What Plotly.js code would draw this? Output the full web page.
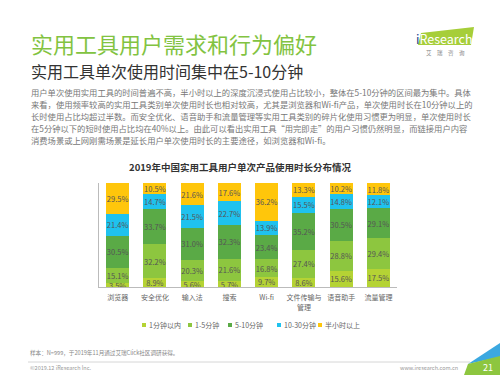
<!DOCTYPE html>
<html>
<head>
<meta charset="utf-8">
<script src="https://cdn.plot.ly/plotly-3.0.1.min.js"></script>
<style>
html,body{margin:0;padding:0;background:#fff;}
#chart{width:500px;height:375px;}
</style>
</head>
<body>
<div id="chart"></div>
<script>
// ---- data ----
const categories = ['浏览器','安全优化','输入法','搜索','Wi-fi','文件传输与<br>管理','语音助手','流量管理'];
const seriesNames = ['1分钟以内','1-5分钟','5-10分钟','10-30分钟','半小时以上'];
const under1 = [3.5, 8.9, 5.6, 5.7, 9.7, 8.6, 15.6, 17.5];
const min1to5 = [15.1, 32.2, 20.3, 21.6, 16.8, 27.4, 28.8, 29.4];
const min5to10 = [30.5, 33.7, 31.0, 32.3, 23.4, 35.2, 30.5, 29.1];
const min10to30 = [21.4, 14.7, 21.5, 22.7, 13.9, 15.5, 14.8, 12.1];
const over30 = [29.5, 10.5, 21.6, 17.6, 36.2, 13.3, 10.2, 11.8];
const seriesValues = [under1, min1to5, min5to10, min10to30, over30];
const seriesColors = ['#B5D334','#8DC63F','#5AAA46','#1FC2EE','#FFC60B'];

const FONT = '"Noto Sans CJK SC", "Noto Sans", sans-serif';

// plot area in pixels
const L = 99, R = 397, T = 183, B = 287;
const px = x => (x - L) / (R - L);
const py = y => (B - y) / (B - T);

const traces = seriesValues.map((vals, i) => ({
  type: 'bar',
  name: seriesNames[i],
  x: categories,
  y: vals,
  marker: {color: seriesColors[i]},
  text: vals.map(v => v.toFixed(1) + '%'),
  textposition: 'inside',
  insidetextanchor: 'middle',
  textangle: 0,
  constraintext: 'none',
  textfont: {family: FONT, size: 7.5, color: '#555'},
  hoverinfo: 'x+y+name',
  showlegend: false
}));

const paragraph = [
  '用户单次使用实用工具的时间普遍不高，半小时以上的深度沉浸式使用占比较小，整体在5-10分钟的区间最为集中。具体',
  '来看，使用频率较高的实用工具类别单次使用时长也相对较高，尤其是浏览器和Wi-fi产品，单次使用时长在10分钟以上的',
  '长时使用占比均超过半数。而安全优化、语音助手和流量管理等实用工具类别的碎片化使用习惯更为明显，单次使用时长',
  '在5分钟以下的短时使用占比均在40%以上。由此可以看出实用工具“用完即走”的用户习惯仍然明显，而链接用户内容',
  '消费场景或上网刚需场景是延长用户单次使用时长的主要途径，如浏览器和Wi-fi。'
];
const paraY = [92, 104, 116, 128, 140];

const annotations = [];
const txt = (x, y, text, size, color, opts) => annotations.push(Object.assign({
  xref: 'paper', yref: 'paper', x: px(x), y: py(y), text: text,
  showarrow: false, xanchor: 'left', yanchor: 'middle',
  font: {family: FONT, size: size, color: color}
}, opts || {}));

txt(29, 43, '实用工具用户需求和行为偏好', 22, '#82C341');
txt(29, 71, '实用工具单次使用时间集中在5-10分钟', 16, '#333');
paragraph.forEach((line, i) => txt(29, paraY[i], line, 8.3, '#777'));

// custom legend
const legX = [142, 188, 228, 277, 318];
const shapes = [];
seriesNames.forEach((n, i) => {
  shapes.push({type: 'rect', xref: 'paper', yref: 'paper',
    x0: px(legX[i]), x1: px(legX[i] + 4), y0: py(327), y1: py(323),
    fillcolor: seriesColors[i], line: {width: 0}});
  txt(legX[i] + 5, 325, n, 7, '#666');
});

txt(28, 353, '样本：N=999，于2019年11月通过艾瑞Click社区调研获得。', 5.6, '#888');
txt(28, 368, '©2019.12 iResearch Inc.', 5.5, '#999');
txt(460, 368, 'www.iresearch.com.cn', 5.5, '#999', {xanchor: 'right'});

// footer line
shapes.push({type: 'line', xref: 'paper', yref: 'paper',
  x0: px(28), x1: px(470), y0: py(362), y1: py(362), line: {color: '#ccc', width: 0.8}});

// page-number corner
const path = pts => 'M ' + pts.map(p => px(p[0]) + ',' + py(p[1])).join(' L ') + ' Z';
shapes.push({type: 'path', xref: 'paper', yref: 'paper', path: path([[500,343],[500,357],[468,364]]),
  fillcolor: '#3BA8E0', line: {width: 0}});
shapes.push({type: 'path', xref: 'paper', yref: 'paper', path: path([[468,364],[500,356],[500,375],[464,375]]),
  fillcolor: '#8DC63F', line: {width: 0}});
txt(488, 367, '21', 9, '#fff', {xanchor: 'center'});

// logo
shapes.push({type: 'path', xref: 'paper', yref: 'paper', path: path([[421,33],[474,27],[471,45],[418,45]]),
  fillcolor: '#A6CE39', line: {width: 0}});
txt(414, 38, '<span style="color:#1B3E8C">i</span>Research', 12.5, '#fff');
txt(445, 53, '艾　瑞　咨　询', 5.5, '#888', {xanchor: 'center'});

const layout = {
  width: 500, height: 375,
  margin: {l: L, r: 500 - R, t: T, b: 375 - B, pad: 0},
  paper_bgcolor: '#fff', plot_bgcolor: '#fff',
  barmode: 'stack',
  bargap: 0.38,
  showlegend: false,
  title: {
    text: '<b>2019年中国实用工具用户单次产品使用时长分布情况</b>',
    font: {family: FONT, size: 9.5, color: '#333'},
    xref: 'container', yref: 'container',
    x: 240 / 500, y: 1 - 168 / 375, xanchor: 'center', yanchor: 'middle'
  },
  xaxis: {
    type: 'category',
    showline: true, linecolor: '#bbb', linewidth: 1,
    ticks: '', showgrid: false, zeroline: false,
    ticklabelstandoff: 4,
    tickfont: {family: FONT, size: 7, color: '#666'}
  },
  yaxis: {
    range: [0, 100],
    showline: true, linecolor: '#bbb', linewidth: 1,
    showticklabels: false, ticks: '', showgrid: false, zeroline: false
  },
  annotations: annotations,
  shapes: shapes,
  font: {family: FONT}
};

Plotly.newPlot('chart', traces, layout, {displayModeBar: false, staticPlot: true});
</script>
</body>
</html>
